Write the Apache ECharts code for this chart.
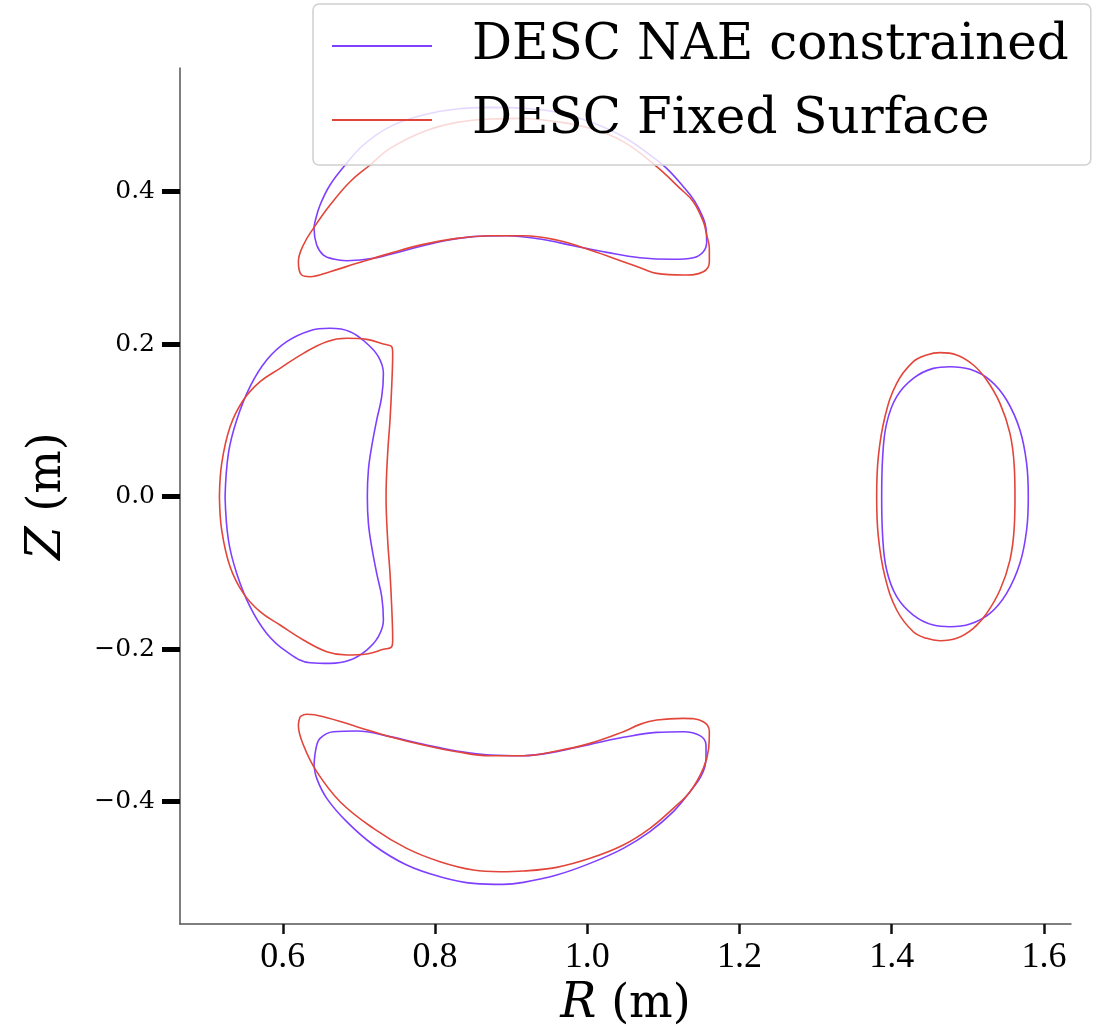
<!DOCTYPE html>
<html>
<head>
<meta charset="utf-8">
<script src="https://cdn.jsdelivr.net/npm/echarts@6/dist/echarts.min.js"></script>
<style>
  html, body { margin: 0; padding: 0; background: #fff; }
  #chart { width: 1096px; height: 1036px; }
</style>
</head>
<body>
<div id="chart"></div>
<script>
// Boundary cross-sections [R (m), Z (m)] at four toroidal angles.
// NAE-constrained equilibrium
const naeTop = [
  [0.8723,0.5106],[0.8285,0.5084],[0.7847,0.5006],[0.7409,0.4853],[0.7059,0.4612],[0.6840,0.4372],
  [0.6621,0.4088],[0.6490,0.3825],[0.6424,0.3607],[0.6411,0.3519],[0.6446,0.3301],[0.6534,0.3169],
  [0.6665,0.3117],[0.6840,0.3095],[0.7191,0.3126],[0.7628,0.3235],[0.8066,0.3344],[0.8504,0.3410],
  [0.8942,0.3423],[0.9380,0.3379],[0.9817,0.3292],[1.0255,0.3204],[1.0693,0.3134],[1.1131,0.3113],
  [1.1393,0.3134],[1.1525,0.3213],[1.1569,0.3344],[1.1560,0.3519],[1.1525,0.3650],[1.1415,0.3869],
  [1.1262,0.4066],[1.1043,0.4306],[1.0824,0.4481],[1.0474,0.4721],[1.0036,0.4918],[0.9598,0.5041],
  [0.9161,0.5093]
];
const naeBottom = [
  [0.6411,-0.3519],[0.6437,-0.3300],[0.6490,-0.3169],[0.6665,-0.3082],[0.6972,-0.3073],[0.7409,-0.3147],
  [0.7847,-0.3248],[0.8285,-0.3335],[0.8723,-0.3388],[0.9161,-0.3397],[0.9598,-0.3344],[1.0036,-0.3248],
  [1.0474,-0.3156],[1.0912,-0.3091],[1.1262,-0.3082],[1.1481,-0.3134],[1.1560,-0.3257],[1.1560,-0.3432],
  [1.1503,-0.3650],[1.1350,-0.3869],[1.1131,-0.4131],[1.0824,-0.4393],[1.0474,-0.4612],[1.0036,-0.4809],
  [0.9598,-0.4962],[0.9161,-0.5058],[0.8898,-0.5084],[0.8504,-0.5071],[0.8066,-0.4984],[0.7628,-0.4831],
  [0.7191,-0.4568],[0.6840,-0.4262],[0.6578,-0.3956],[0.6446,-0.3694]
];
const naeLeft = [
  [0.5242,0.0000],[0.5286,0.0568],[0.5395,0.1005],[0.5570,0.1443],[0.5789,0.1792],[0.6052,0.2033],
  [0.6358,0.2177],[0.6621,0.2208],[0.6884,0.2164],[0.7103,0.2011],[0.7256,0.1836],[0.7322,0.1617],
  [0.7300,0.1311],[0.7234,0.1005],[0.7168,0.0656],[0.7125,0.0350],[0.7111,0.0000],[0.7125,-0.0350],
  [0.7168,-0.0656],[0.7234,-0.1006],[0.7300,-0.1312],[0.7322,-0.1618],[0.7256,-0.1836],[0.7103,-0.2011],
  [0.6884,-0.2142],[0.6621,-0.2186],[0.6358,-0.2177],[0.6052,-0.2033],[0.5789,-0.1793],[0.5570,-0.1443],
  [0.5395,-0.1006],[0.5286,-0.0568]
];
const naeRight = [
  [1.3868,0.0000],[1.3881,0.0525],[1.3933,0.0962],[1.4065,0.1312],[1.4283,0.1552],[1.4546,0.1683],
  [1.4765,0.1705],[1.5028,0.1670],[1.5290,0.1530],[1.5509,0.1268],[1.5684,0.0875],[1.5772,0.0437],
  [1.5794,0.0000],[1.5772,-0.0437],[1.5684,-0.0874],[1.5509,-0.1268],[1.5290,-0.1530],[1.5028,-0.1670],
  [1.4765,-0.1705],[1.4546,-0.1683],[1.4283,-0.1552],[1.4065,-0.1311],[1.3933,-0.0962],[1.3881,-0.0524]
];

// Fixed-boundary equilibrium
const fixedTop = [
  [0.9161,0.4962],[0.8723,0.4953],[0.8285,0.4909],[0.7847,0.4787],[0.7409,0.4568],[0.7147,0.4350],
  [0.6884,0.4131],[0.6621,0.3825],[0.6402,0.3519],[0.6271,0.3301],[0.6205,0.3082],[0.6249,0.2907],
  [0.6359,0.2885],[0.6621,0.2951],[0.6972,0.3060],[0.7409,0.3191],[0.7847,0.3309],[0.8285,0.3388],
  [0.8723,0.3423],[0.9161,0.3423],[0.9598,0.3366],[1.0036,0.3235],[1.0474,0.3082],[1.0737,0.2986],
  [1.0912,0.2929],[1.1262,0.2907],[1.1525,0.2951],[1.1604,0.3082],[1.1604,0.3257],[1.1569,0.3432],
  [1.1525,0.3607],[1.1393,0.3869],[1.1218,0.4044],[1.0912,0.4328],[1.0474,0.4656],[1.0036,0.4831],
  [0.9598,0.4918]
];
const fixedBottom = [
  [0.6227,-0.2885],[0.6315,-0.2854],[0.6534,-0.2885],[0.6972,-0.3016],[0.7409,-0.3147],[0.7847,-0.3257],
  [0.8285,-0.3344],[0.8723,-0.3397],[0.9161,-0.3397],[0.9598,-0.3335],[1.0036,-0.3235],[1.0474,-0.3082],
  [1.0693,-0.2986],[1.0912,-0.2929],[1.1262,-0.2907],[1.1525,-0.2951],[1.1604,-0.3082],[1.1595,-0.3300],
  [1.1525,-0.3563],[1.1350,-0.3869],[1.1131,-0.4087],[1.0824,-0.4350],[1.0474,-0.4568],[1.0036,-0.4743],
  [0.9598,-0.4861],[0.9161,-0.4909],[0.8854,-0.4918],[0.8504,-0.4896],[0.8066,-0.4787],[0.7628,-0.4612],
  [0.7191,-0.4350],[0.6753,-0.4000],[0.6446,-0.3606],[0.6271,-0.3257],[0.6205,-0.2994]
];
const fixedLeft = [
  [0.5168,0.0000],[0.5198,0.0437],[0.5308,0.0918],[0.5483,0.1268],[0.5702,0.1508],[0.5964,0.1683],
  [0.6271,0.1880],[0.6577,0.2033],[0.6840,0.2077],[0.7103,0.2063],[0.7322,0.2002],[0.7431,0.1967],
  [0.7444,0.1880],[0.7431,0.1443],[0.7409,0.1005],[0.7378,0.0568],[0.7357,0.0000],[0.7378,-0.0568],
  [0.7409,-0.1006],[0.7431,-0.1443],[0.7444,-0.1880],[0.7431,-0.1968],[0.7322,-0.2002],[0.7103,-0.2064],
  [0.6840,-0.2077],[0.6577,-0.2033],[0.6271,-0.1880],[0.5964,-0.1683],[0.5702,-0.1508],[0.5483,-0.1268],
  [0.5308,-0.0918],[0.5198,-0.0437]
];
const fixedRight = [
  [1.3802,0.0000],[1.3824,0.0525],[1.3911,0.1049],[1.4065,0.1487],[1.4283,0.1771],[1.4459,0.1858],
  [1.4634,0.1889],[1.4853,0.1858],[1.5072,0.1727],[1.5247,0.1530],[1.5422,0.1224],[1.5553,0.0831],
  [1.5610,0.0394],[1.5619,0.0000],[1.5610,-0.0393],[1.5553,-0.0831],[1.5422,-0.1224],[1.5247,-0.1530],
  [1.5072,-0.1727],[1.4853,-0.1858],[1.4634,-0.1889],[1.4459,-0.1858],[1.4283,-0.1771],[1.4065,-0.1486],
  [1.3911,-0.1049],[1.3824,-0.0524]
];

// Tick positions
const xTicks = [0.6, 0.8, 1.0, 1.2, 1.4, 1.6];
const yTicks = [-0.4, -0.2, 0.0, 0.2, 0.4];
const xRange = [0.465, 1.6355];
const yRange = [-0.5604, 0.5622];

const NAE_NAME = 'DESC NAE constrained';
const FIXED_NAME = 'DESC Fixed Surface';
const NAE_COLOR = '#7f3fff';
const FIXED_COLOR = '#e2453a';

const fmt = v => (v < -1e-9 ? '\u2212' : '') + Math.abs(v).toFixed(1);

// closed outline: repeat the first vertex at the end
const closed = pts => pts.concat([pts[0]]);

function loopSeries(name, color, pts) {
  return {
    name: name,
    type: 'line',
    data: closed(pts),
    smooth: 0.4,
    symbol: 'none',
    showSymbol: false,
    lineStyle: { color: color, width: 1.6 },
    itemStyle: { color: color },
    z: 2
  };
}

const series = [
  loopSeries(NAE_NAME, NAE_COLOR, naeTop),
  loopSeries(NAE_NAME, NAE_COLOR, naeBottom),
  loopSeries(NAE_NAME, NAE_COLOR, naeLeft),
  loopSeries(NAE_NAME, NAE_COLOR, naeRight),
  loopSeries(FIXED_NAME, FIXED_COLOR, fixedTop),
  loopSeries(FIXED_NAME, FIXED_COLOR, fixedBottom),
  loopSeries(FIXED_NAME, FIXED_COLOR, fixedLeft),
  loopSeries(FIXED_NAME, FIXED_COLOR, fixedRight)
];

const chart = echarts.init(document.getElementById('chart'), null, { renderer: 'canvas' });

const nameRich = {
  i: { fontFamily: 'DejaVu Serif', fontStyle: 'italic', fontSize: 48, color: '#000' },
  n: { fontFamily: 'DejaVu Serif', fontSize: 46, color: '#000' }
};

chart.setOption({
  animation: false,
  backgroundColor: '#ffffff',
  grid: { left: 180, top: 68, width: 891, height: 856, containLabel: false },
  legend: {
    data: [
      { name: NAE_NAME, icon: 'rect', itemStyle: { color: NAE_COLOR } },
      { name: FIXED_NAME, icon: 'rect', itemStyle: { color: FIXED_COLOR } }
    ],
    orient: 'vertical',
    left: 313,
    top: 4,
    itemWidth: 100,
    itemHeight: 2,
    itemGap: 14,
    padding: [12, 22, 15, 19],
    backgroundColor: 'rgba(255,255,255,0.8)',
    borderColor: '#d0d0d0',
    borderWidth: 1.5,
    borderRadius: 6,
    textStyle: {
      fontFamily: 'DejaVu Serif',
      fontSize: 50,
      lineHeight: 60,
      color: '#000',
      padding: [0, 0, 0, 35]
    }
  },
  xAxis: [
    {
      type: 'value',
      min: xRange[0],
      max: xRange[1],
      name: '{i|R}{n| (m)}',
      nameLocation: 'middle',
      nameGap: 56,
      nameTextStyle: { rich: nameRich },
      axisLine: { show: true, onZero: false, lineStyle: { color: '#555', width: 1.5 } },
      axisTick: { show: false },
      axisLabel: {
        customValues: xTicks,
        formatter: fmt,
        margin: 16,
        fontFamily: 'Liberation Serif',
        fontSize: 36,
        color: '#000'
      },
      splitLine: { show: false }
    },
    {
      // companion axis on the same scale that only carries the tick marks
      type: 'value',
      position: 'bottom',
      min: xRange[0],
      max: xRange[1],
      axisLine: { show: false, onZero: false },
      axisLabel: { show: false },
      splitLine: { show: false },
      axisTick: {
        show: true, inside: false, customValues: xTicks, length: 10,
        lineStyle: { color: '#111', width: 2.5 }
      }
    }
  ],
  yAxis: {
    type: 'value',
    min: yRange[0],
    max: yRange[1],
    name: '{i|Z}{n| (m)}',
    nameLocation: 'middle',
    nameRotate: 90,
    nameGap: 108,
    nameTextStyle: { rich: nameRich },
    axisLine: { show: true, onZero: false, lineStyle: { color: '#555', width: 1.5 } },
    axisTick: {
      show: true, inside: false, customValues: yTicks, length: 18,
      lineStyle: { color: '#000', width: 5 }
    },
    axisLabel: {
      customValues: yTicks,
      formatter: fmt,
      margin: 25,
      fontFamily: 'DejaVu Serif',
      fontSize: 25,
      color: '#000'
    },
    splitLine: { show: false }
  },
  series: series
});
</script>
</body>
</html>
